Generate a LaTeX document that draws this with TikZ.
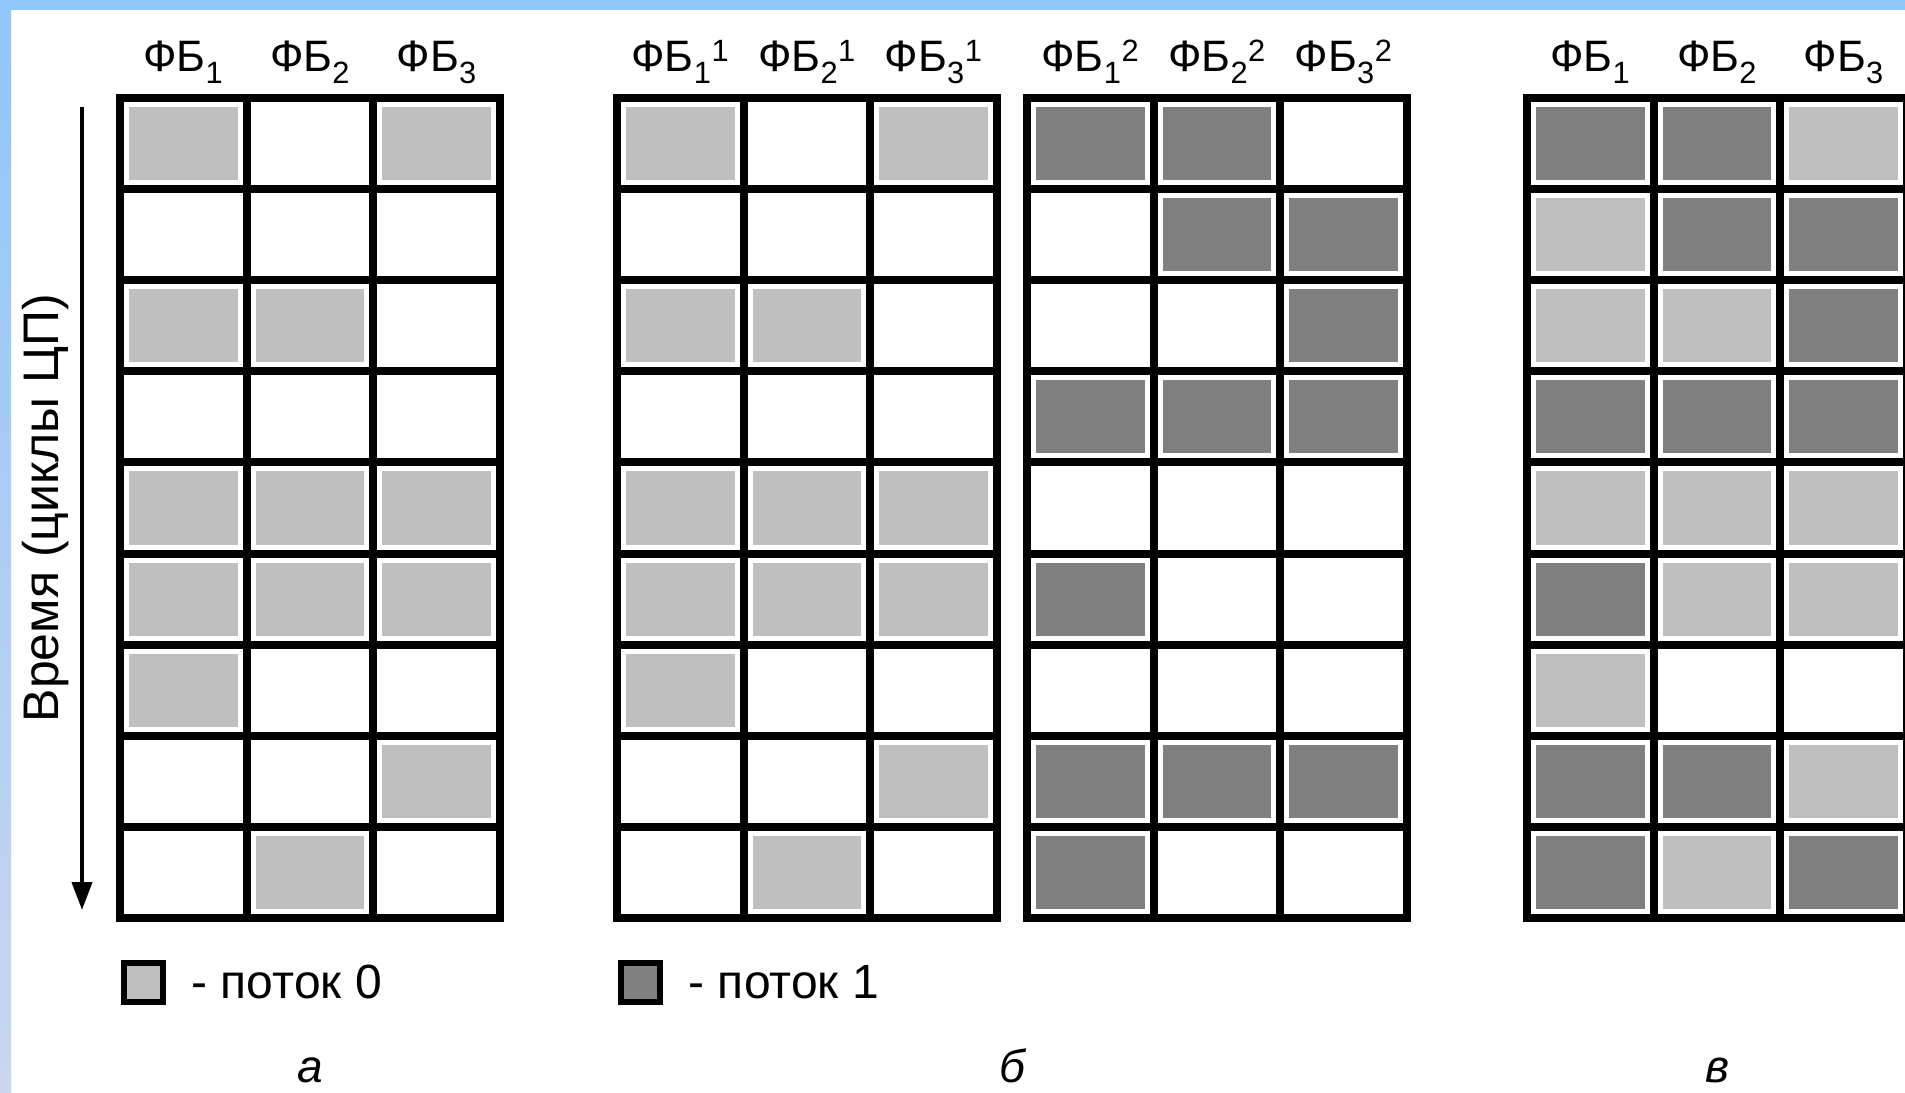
\documentclass[tikz,border=0pt]{standalone}
\usepackage{fontspec}
\setmainfont{Liberation Sans}
\usetikzlibrary{arrows.meta,positioning}

\definecolor{cL}{HTML}{BFBFBF}
\definecolor{cD}{HTML}{808080}
\definecolor{cW}{HTML}{FFFFFF}
\definecolor{barblue}{HTML}{8FC6FA}
\definecolor{barpale}{HTML}{CAD6EE}

\newcommand{\cellw}{126.67}
\newcommand{\cellh}{91.11}
% one 3x9 table of functional units, #1 = left edge, #2 = rows
\newcommand{\fbgrid}[2]{%
  \foreach \fa/\fb/\fc [count=\i from 0] in {#2} {
    \foreach \fx [count=\j from 0] in {\fa,\fb,\fc}
      \fill[fill=c\fx] ({#1+\j*\cellw+9},{98+\i*\cellh+9}) rectangle ({#1+(\j+1)*\cellw-9},{98+(\i+1)*\cellh-9});
  }
  \foreach \i in {0,...,9} \draw[gridline] (#1,{98+\i*\cellh}) -- ++(380,0);
  \foreach \j in {0,...,3} \draw[gridline] ({#1+\j*\cellw},98) -- ++(0,820);
}

\tikzset{
  gridline/.style={line width=8pt, line cap=rect},
  head/.style={anchor=base, inner sep=0pt, font=\fontsize{44}{50}\selectfont},
  legbox/.style={draw, line width=6pt, minimum size=39pt, inner sep=0pt},
  legtext/.style={inner sep=0pt, font=\fontsize{48}{54}\selectfont},
  part/.style={anchor=base, inner sep=0pt, font=\fontsize{46}{52}\selectfont\itshape},
  timearrow/.style={line width=4pt, -{Triangle[width=20pt,length=28pt]}},
}

\begin{document}
\begin{tikzpicture}[x=1pt, y=-1pt]
    \useasboundingbox (0,0) rectangle (1905,1092);
    \clip (0,0) rectangle (1905,1092);
    \fill[white] (0,0) rectangle (1905,1092);

    % Slide frame
    \fill[barblue] (0,0) rectangle (1905,10);
    \shade[top color=barblue, bottom color=barpale] (0,0) rectangle (11,1092);

    % Time axis
    \coordinate (tstart) at (82,107);
    \coordinate (tend) at (82,910);
    \draw[timearrow] (tstart) -- (tend);
    \node[rotate=90, inner sep=0pt, font=\fontsize{50}{56}\selectfont] (timelbl) at (46,508) {Время (циклы ЦП)};

    % a: thread 0 alone
    \fbgrid{120}{L/W/L, W/W/W, L/L/W, W/W/W, L/L/L, L/L/L, L/W/W, W/W/L, W/L/W}
    \foreach \j in {1,2,3}
      \node[head] (ha\j) at ({120+(\j-0.5)*\cellw},71) {ФБ\textsubscript{\j}};

    % b: two processors, one thread each
    \fbgrid{617}{L/W/L, W/W/W, L/L/W, W/W/W, L/L/L, L/L/L, L/W/W, W/W/L, W/L/W}
    \fbgrid{1027}{D/D/W, W/D/D, W/W/D, D/D/D, W/W/W, D/W/W, W/W/W, D/D/D, D/W/W}
    \foreach \j in {1,2,3} {
      \node[head] (hb\j) at ({617+(\j-0.5)*\cellw},71) {ФБ\textsubscript{\j}\textsuperscript{1}};
      \node[head] (hbb\j) at ({1027+(\j-0.5)*\cellw},71) {ФБ\textsubscript{\j}\textsuperscript{2}};
    }

    % c: both threads on one core
    \fbgrid{1527}{D/D/L, L/D/D, L/L/D, D/D/D, L/L/L, D/L/L, L/W/W, D/D/L, D/L/D}
    \foreach \j in {1,2,3}
      \node[head] (hc\j) at ({1527+(\j-0.5)*\cellw},71) {ФБ\textsubscript{\j}};

    % Legend
    \node[legbox, fill=cL] (leg0) at (143,982) {};
    \node[legtext, right=26pt of leg0] (leg0txt) {- поток 0};
    \node[legbox, fill=cD] (leg1) at (640,982) {};
    \node[legtext, right=26pt of leg1] (leg1txt) {- поток 1};

    % Part labels
    \node[part] (pa) at (310,1082) {а};
    \node[part] (pb) at (1012,1082) {б};
    \node[part] (pc) at (1717,1082) {в};
\end{tikzpicture}
\end{document}
